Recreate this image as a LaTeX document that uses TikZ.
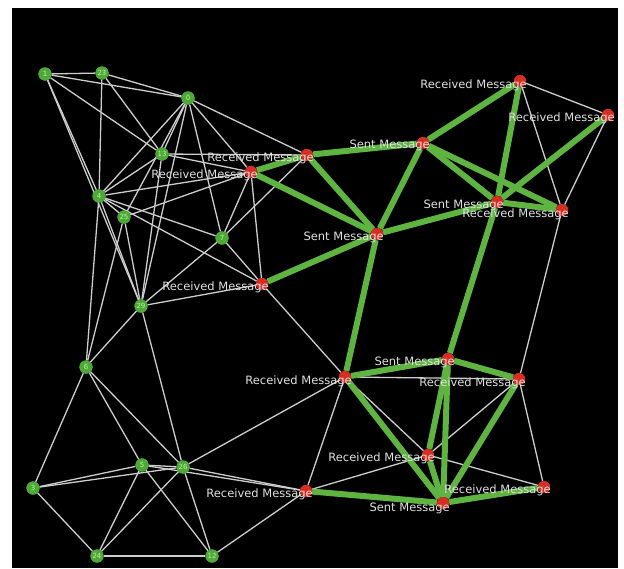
\documentclass[tikz,border=0pt]{standalone}
\usepackage{fontspec}
\setmainfont{DejaVu Sans}
\definecolor{gnode}{RGB}{78,170,55}
\definecolor{rnode}{RGB}{215,45,35}
\definecolor{gedge}{RGB}{95,180,65}
\definecolor{wedge}{RGB}{205,205,205}
\definecolor{ltxt}{RGB}{225,225,225}
\definecolor{gtxt}{RGB}{190,235,170}
\tikzset{
  gn/.style={circle,fill=gnode,minimum size=13pt,inner sep=0pt,text=gtxt,font=\fontsize{7}{8}\selectfont},
  rn/.style={circle,fill=rnode,minimum size=12pt,inner sep=0pt},
  lbl/.style={anchor=east,text=ltxt,inner sep=0pt,font=\fontsize{11.5}{13}\selectfont},
  thin edge/.style={draw=wedge,line width=1.3pt},
  thick edge/.style={draw=gedge,line width=6pt},
}
\begin{document}
\begin{tikzpicture}[x=1pt,y=-1pt]
\fill[white] (0,0) rectangle (624,568);
\fill[black] (12,8) rectangle (618,568);
\useasboundingbox (0,0) rectangle (624,568);
% green nodes
\node[gn] (n1) at (45,74) {1};
\node[gn] (n23) at (102,73) {23};
\node[gn] (n0) at (188,98) {0};
\node[gn] (n13) at (162,154) {13};
\node[gn] (n4) at (99,196) {4};
\node[gn] (n25) at (124,217) {25};
\node[gn] (n7) at (222,238) {7};
\node[gn] (n29) at (141,306) {29};
\node[gn] (n6) at (86,367) {6};
\node[gn] (n5) at (142,465) {5};
\node[gn] (n26) at (183,467) {26};
\node[gn] (n3) at (33,488) {3};
\node[gn] (n24) at (97,556) {24};
\node[gn] (n12) at (212,556) {12};
% red nodes
\node[rn] (rA) at (307,155) {};
\node[rn] (rB) at (251,172) {};
\node[rn] (rC) at (262,284) {};
\node[rn] (sD) at (423,143) {};
\node[rn] (rE) at (520,81) {};
\node[rn] (rF) at (608,115) {};
\node[rn] (sG) at (497,202) {};
\node[rn] (rH) at (562,210) {};
\node[rn] (sI) at (377,234) {};
\node[rn] (rJ) at (345,377) {};
\node[rn] (sK) at (448,359) {};
\node[rn] (rL) at (519,379) {};
\node[rn] (rM) at (428,455) {};
\node[rn] (rN) at (544,487) {};
\node[rn] (sO) at (443,503) {};
\node[rn] (rP) at (306,491) {};
\begin{scope}[on background layer/.try]
\end{scope}
% thin edges
\begin{pgfinterruptboundingbox}
\foreach \a/\b in {n1/n23,n1/n0,n1/n13,n1/n4,n1/n29,n23/n0,n23/n13,n23/n4,
  n0/rA,n0/rB,n0/n7,n0/n13,n0/n4,n0/n25,n0/n29,
  n13/rA,n13/rB,n13/n4,n13/n29,
  n4/rB,n4/n7,n4/rC,n4/n25,n4/n6,n4/n29,
  n25/rB,n25/n29,n25/n6,
  n7/rA,n7/rB,n7/rC,n7/n29,
  n29/rC,n29/n6,n29/n26,
  n6/n3,n6/n5,n6/n26,
  n5/n3,n5/n26,n5/n24,n5/n12,n5/rP,
  n26/n3,n26/n24,n26/n12,n26/rP,n26/rJ,
  n3/n24,n24/n12,n12/rP,
  rB/rC,rC/rJ,
  rE/rF,rE/rH,rF/rH,rH/rL,rJ/rL,rJ/rM,rM/rL,rM/rN,rM/rP,rL/rN,rJ/rP}
  \draw[thin edge] (\a) -- (\b);
% thick edges
\foreach \a/\b in {rB/rA,rB/sI,rA/sD,rA/sI,sD/rE,sD/sI,sD/rH,sD/sG,rE/sG,rF/sG,sG/rH,
  sI/sG,sI/rC,sI/rJ,sG/sK,rJ/sK,sK/rL,rJ/sO,sK/rM,sK/sO,rL/sO,rM/sO,sO/rN,rP/sO}
  \draw[thick edge] (\a) -- (\b);
\end{pgfinterruptboundingbox}
% redraw nodes on top
\foreach \n in {n1,n23,n0,n13,n4,n25,n7,n29,n6,n5,n26,n3,n24,n12}
  \fill[gnode] (\n) circle (6.5);
\node[gn] at (n1) {1};
\node[gn] at (n23) {23};
\node[gn] at (n0) {0};
\node[gn] at (n13) {13};
\node[gn] at (n4) {4};
\node[gn] at (n25) {25};
\node[gn] at (n7) {7};
\node[gn] at (n29) {29};
\node[gn] at (n6) {6};
\node[gn] at (n5) {5};
\node[gn] at (n26) {26};
\node[gn] at (n3) {3};
\node[gn] at (n24) {24};
\node[gn] at (n12) {12};
\foreach \n in {rA,rB,rC,sD,rE,rF,sG,rH,sI,rJ,sK,rL,rM,rN,sO,rP}
  \fill[rnode] (\n) circle (6);
% labels
\node[lbl] (lA) at ([shift={(7,3)}]rA) {Received Message};
\node[lbl] (lB) at ([shift={(7,3)}]rB) {Received Message};
\node[lbl] (lC) at ([shift={(7,3)}]rC) {Received Message};
\node[lbl] (lD) at ([shift={(7,2)}]sD) {Sent Message};
\node[lbl] (lE) at ([shift={(7,4)}]rE) {Received Message};
\node[lbl] (lF) at ([shift={(7,3)}]rF) {Received Message};
\node[lbl] (lG) at ([shift={(7,3)}]sG) {Sent Message};
\node[lbl] (lH) at ([shift={(7,4)}]rH) {Received Message};
\node[lbl] (lI) at ([shift={(7,3)}]sI) {Sent Message};
\node[lbl] (lJ) at ([shift={(7,4)}]rJ) {Received Message};
\node[lbl] (lK) at ([shift={(7,3)}]sK) {Sent Message};
\node[lbl] (lL) at ([shift={(7,4)}]rL) {Received Message};
\node[lbl] (lM) at ([shift={(7,3)}]rM) {Received Message};
\node[lbl] (lN) at ([shift={(7,3)}]rN) {Received Message};
\node[lbl] (lO) at ([shift={(7,5)}]sO) {Sent Message};
\node[lbl] (lP) at ([shift={(7,3)}]rP) {Received Message};
\end{tikzpicture}
\end{document}
